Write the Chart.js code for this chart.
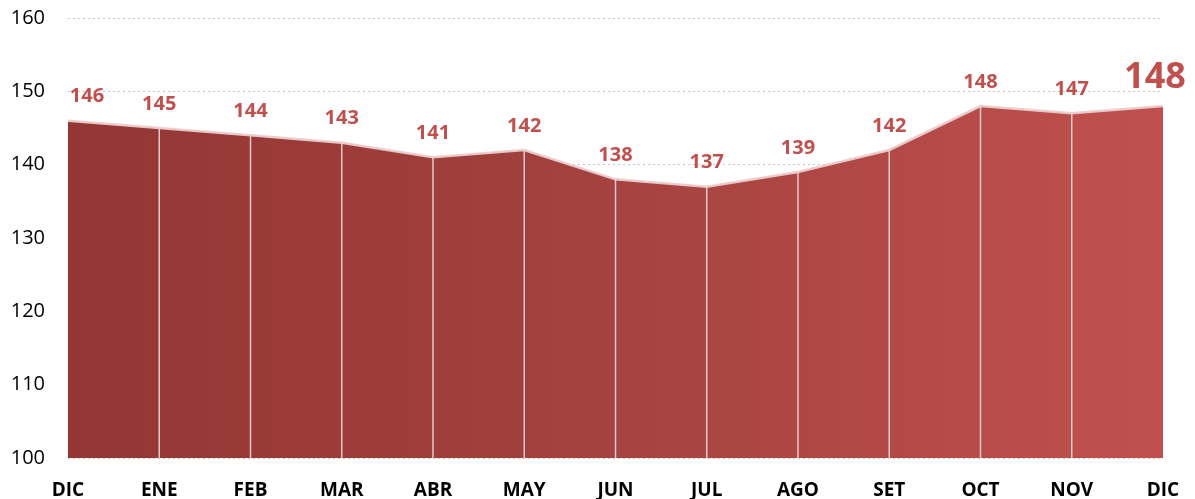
<!DOCTYPE html>
<html><head><meta charset="utf-8">
<script src="https://cdn.jsdelivr.net/npm/chart.js@4/dist/chart.umd.min.js"></script>
<style>html,body{margin:0;padding:0;background:#fff}#wrap{width:1195px;height:499px}</style>
</head><body><div id="wrap"><canvas id="c" width="1195" height="499"></canvas></div>
<script>
const categories = ["DIC","ENE","FEB","MAR","ABR","MAY","JUN","JUL","AGO","SET","OCT","NOV","DIC"];
const values = [146,145,144,143,141,142,138,137,139,142,148,147,148];
const yTicks = [100,110,120,130,140,150,160];

const FONT = "'Open Sans', 'Liberation Sans', sans-serif";

const dropLines = {
  id: 'dropLines',
  afterDatasetsDraw(chart) {
    const ctx = chart.ctx, meta = chart.getDatasetMeta(0), y0 = chart.scales.y.getPixelForValue(100);
    ctx.save();
    ctx.strokeStyle = 'rgba(240,215,215,0.9)';
    ctx.lineWidth = 1.5;
    meta.data.forEach((p, i) => {
      if (i === 0 || i === meta.data.length - 1) return;
      ctx.beginPath(); ctx.moveTo(p.x, p.y); ctx.lineTo(p.x, y0); ctx.stroke();
    });
    ctx.restore();
  }
};
const valueLabels = {
  id: 'valueLabels',
  afterDatasetsDraw(chart) {
    const ctx = chart.ctx, meta = chart.getDatasetMeta(0);
    ctx.save();
    ctx.fillStyle = '#c0504d';
    ctx.textAlign = 'center';
    ctx.textBaseline = 'middle';
    meta.data.forEach((p, i) => {
      const last = i === meta.data.length - 1;
      ctx.font = (last ? 'bold 36px ' : 'bold 20px ') + FONT;
      let x = p.x;
      if (i === 0) x += 19;
      if (last) x -= 8;
      ctx.fillText(String(values[i]), x, p.y - (last ? 28 : 24));
    });
    ctx.restore();
  }
};

new Chart(document.getElementById('c'), {
  type: 'line',
  data: {
    labels: categories,
    datasets: [{
      data: values,
      fill: 'start',
      tension: 0,
      pointRadius: 0,
      borderColor: 'rgba(235,205,205,0.95)',
      borderWidth: 2.5,
      backgroundColor(ctx) {
        const ca = ctx.chart.chartArea;
        if (!ca) return '#a83f3d';
        const g = ctx.chart.ctx.createLinearGradient(ca.left, 0, ca.right, 0);
        g.addColorStop(0, '#943634');
        g.addColorStop(0.4, '#a0403d');
        g.addColorStop(1, '#c0504d');
        return g;
      }
    }]
  },
  options: {
    responsive: false,
    animation: false,
    layout: { padding: { top: 18, right: 32, bottom: 0, left: 8 } },
    plugins: { legend: { display: false }, tooltip: { enabled: false } },
    scales: {
      x: {
        offset: false,
        afterFit(s) { s.height = 41; s.paddingLeft = 0; s.paddingRight = 0; },
        grid: { display: false },
        border: { display: false },
        ticks: { color: '#000', font: { family: FONT, size: 19, weight: 'bold' }, padding: 13, maxRotation: 0 }
      },
      y: {
        min: 100, max: 160,
        afterBuildTicks(s) { s.ticks = yTicks.map(v => ({ value: v })); },
        afterFit(s) { s.width = 60; s.paddingTop = 0; s.paddingBottom = 0; },
        grid: { color: '#c8c8c8', lineWidth: 1, drawTicks: false },
        border: { display: false, dash: [2, 3] },
        ticks: { color: '#000', font: { family: FONT, size: 20 }, padding: 23 }
      }
    }
  },
  plugins: [dropLines, valueLabels]
});
</script></body></html>
